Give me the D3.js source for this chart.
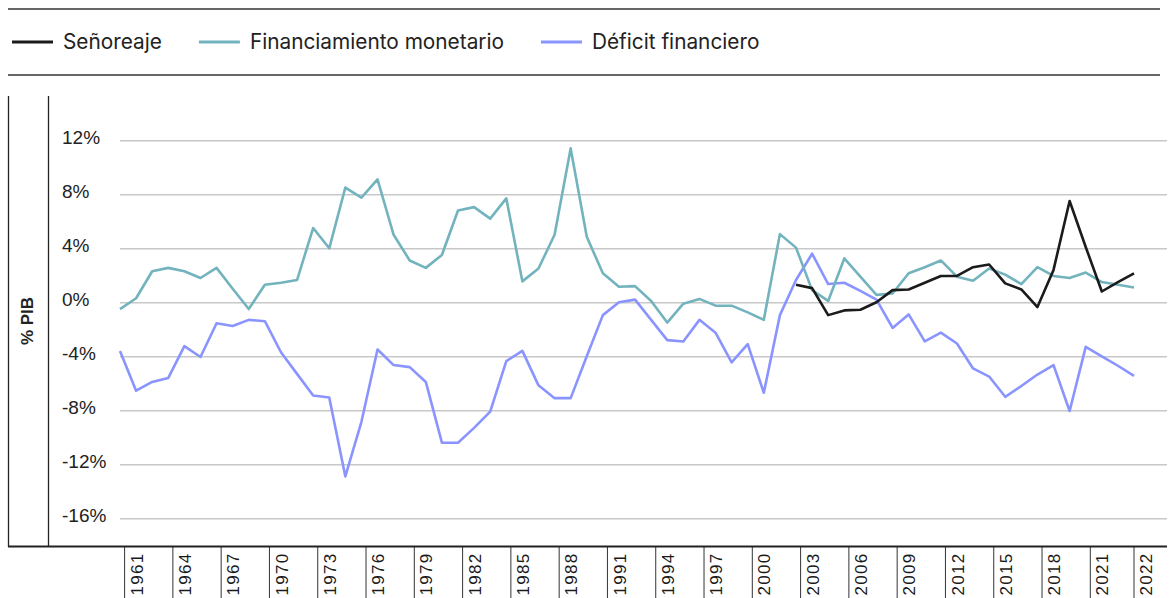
<!DOCTYPE html>
<html>
<head>
<meta charset="utf-8">
<script src="https://cdn.jsdelivr.net/npm/d3@7"></script>
<style>
  body { margin: 0; background: #fff; }
  svg { display: block; }
</style>
</head>
<body>
<svg id="canvas"></svg>
<script>
// años de la serie (un punto por año)
let years = d3.range(1960, 2024)

let financiamiento = [
  -0.5, 0.3, 2.3, 2.55, 2.3, 1.8, 2.55, 1.0, -0.5, 1.3,
  1.45, 1.65, 5.5, 4.0, 8.5, 7.75, 9.1, 5.0, 3.1, 2.55,
  3.5, 6.8, 7.05, 6.2, 7.7, 1.55, 2.5, 5.0, 11.4, 4.85,
  2.15, 1.15, 1.2, 0.1, -1.5, -0.1, 0.25, -0.25, -0.25, -0.75,
  -1.3, 5.05, 4.05, 0.9, 0.1, 3.25, 1.9, 0.55, 0.65, 2.15,
  2.6, 3.1, 1.9, 1.6, 2.5, 2.05, 1.35, 2.6, 1.95, 1.8,
  2.2, 1.5, 1.3, 1.1
]

let deficit = [
  -3.6, -6.55, -5.9, -5.6, -3.25, -4.05, -1.55, -1.75, -1.3, -1.4,
  -3.7, -5.3, -6.9, -7.05, -12.9, -8.85, -3.5, -4.65, -4.8, -5.9,
  -10.4, -10.4, -9.3, -8.1, -4.35, -3.6, -6.15, -7.1, -7.1, -4.0,
  -0.95, 0.0, 0.2, -1.3, -2.8, -2.9, -1.3, -2.25, -4.45, -3.1,
  -6.7, -0.95, 1.65, 3.6, 1.35, 1.45, 0.85, 0.2, -1.9, -0.9,
  -2.9, -2.25, -3.05, -4.9, -5.5, -7.0, -6.2, -5.35, -4.65, -8.05,
  -3.3, -4.0, -4.7, -5.45
]

// señoreaje solo desde 2002
let senoreaje = [
  null, null, null, null, null, null, null, null, null, null,
  null, null, null, null, null, null, null, null, null, null,
  null, null, null, null, null, null, null, null, null, null,
  null, null, null, null, null, null, null, null, null, null,
  null, null, 1.3, 1.05, -0.95, -0.6, -0.55, 0.0, 0.9, 0.95,
  1.45, 1.95, 1.95, 2.6, 2.8, 1.4, 0.95, -0.35, 2.4, 7.5,
  4.1, 0.8, 1.5, 2.15
]

let seriesNames = ['Señoreaje', 'Financiamiento monetario', 'Déficit financiero']
let seriesColors = ['#1b1b1b', '#72b3bd', '#8a94ff']
let seriesValues = [senoreaje, financiamiento, deficit]

let yTicks = [12, 8, 4, 0, -4, -8, -12, -16]
let xTicks = [1961, 1964, 1967, 1970, 1973, 1976, 1979, 1982, 1985, 1988, 1991,
              1994, 1997, 2000, 2003, 2006, 2009, 2012, 2015, 2018, 2021, 2022]

let width = 1171
let height = 598

let canvas = d3.select('#canvas')
canvas.attr('width', width)
      .attr('height', height)

let xScale = d3.scaleLinear()
               .domain([1960, 2023])
               .range([120, 1134])

let yScale = d3.scaleLinear()
               .domain([-16, 12])
               .range([518.3, 140.3])

// líneas del marco
let drawFrame = () => {
    canvas.append('line')
          .attr('x1', 8).attr('x2', 1160)
          .attr('y1', 9).attr('y2', 9)
          .attr('stroke', '#666').attr('stroke-width', 2)
    canvas.append('line')
          .attr('x1', 8).attr('x2', 1160)
          .attr('y1', 75).attr('y2', 75)
          .attr('stroke', '#666').attr('stroke-width', 2)
    canvas.append('line')
          .attr('x1', 8.5).attr('x2', 8.5)
          .attr('y1', 96).attr('y2', 547)
          .attr('stroke', '#222').attr('stroke-width', 1.3)
    canvas.append('line')
          .attr('x1', 48.5).attr('x2', 48.5)
          .attr('y1', 96).attr('y2', 547)
          .attr('stroke', '#222').attr('stroke-width', 1.3)

    canvas.append('text')
          .attr('transform', 'translate(33,321) rotate(-90)')
          .attr('text-anchor', 'middle')
          .attr('font-family', 'Liberation Sans, Arial, sans-serif')
          .attr('font-size', 17)
          .attr('font-weight', 'bold')
          .attr('fill', '#222')
          .text('% PIB')
}

let drawLegend = () => {
    let legend = canvas.append('g')
    let cursor = 12
    seriesNames.forEach((name, i) => {
        legend.append('line')
              .attr('x1', cursor).attr('x2', cursor + 41)
              .attr('y1', 42).attr('y2', 42)
              .attr('stroke', seriesColors[i])
              .attr('stroke-width', 3)
        let label = legend.append('text')
              .attr('x', cursor + 51)
              .attr('y', 42)
              .attr('dy', '0.35em')
              .attr('font-family', 'Inter, sans-serif')
              .attr('font-size', 20.8)
              .attr('fill', '#222')
              .text(name)
        cursor = cursor + 51 + label.node().getComputedTextLength() + 37
    })
}

let drawAxes = () => {
    let yAxis = d3.axisLeft(yScale)
                  .tickValues(yTicks)
                  .tickSize(-(1167 - 120))
                  .tickFormat(d => d + '%')

    let yg = canvas.append('g')
          .attr('id', 'y-axis')
          .attr('transform', 'translate(120,0)')
          .call(yAxis)
    yg.select('.domain').remove()
    yg.selectAll('.tick line')
      .attr('stroke', '#c8c8c8')
      .attr('stroke-width', 1.5)
    yg.selectAll('.tick text')
      .attr('x', -58)
      .attr('y', -3)
      .attr('text-anchor', 'start')
      .attr('font-family', 'Liberation Sans, Arial, sans-serif')
      .attr('font-size', 19)
      .attr('fill', '#222')

    let xAxis = d3.axisBottom(xScale)
                  .tickValues(xTicks)
                  .tickSize(0)
                  .tickFormat(d3.format('d'))

    let xg = canvas.append('g')
          .attr('id', 'x-axis')
          .attr('transform', 'translate(0,546.5)')
          .call(xAxis)
    xg.select('.domain').remove()

    // la última etiqueta va al final del eje, como en el original
    let lastTick = xTicks[xTicks.length - 1]
    let endX = xScale.range()[1]
    xg.selectAll('.tick')
      .filter(d => d === lastTick)
      .attr('transform', 'translate(' + (endX + 12) + ',0)')

    xg.selectAll('.tick text')
      .attr('transform', 'translate(0,6) rotate(-90)')
      .attr('x', 0)
      .attr('y', 0)
      .attr('dy', '0.36em')
      .attr('text-anchor', 'end')
      .attr('font-family', 'Liberation Sans, Arial, sans-serif')
      .attr('font-size', 17)
      .attr('letter-spacing', '1.3px')
      .attr('fill', '#1a1a1a')
    xg.selectAll('.tick')
      .append('line')
      .attr('x1', -12).attr('x2', -12)
      .attr('y1', 0).attr('y2', 52)
      .attr('stroke', '#333')
      .attr('stroke-width', 1)

    canvas.append('line')
          .attr('x1', 8).attr('x2', 1167)
          .attr('y1', 546.5).attr('y2', 546.5)
          .attr('stroke', '#222').attr('stroke-width', 2)
}

let drawLines = () => {
    let line = d3.line()
                 .defined(d => d[1] !== null)
                 .x(d => xScale(d[0]))
                 .y(d => yScale(d[1]))

    // orden de dibujo: déficit, financiamiento, señoreaje arriba
    let order = [2, 1, 0]
    order.forEach(i => {
        let pts = years.map((yr, j) => [yr, seriesValues[i][j]])
        canvas.append('path')
              .datum(pts)
              .attr('d', line)
              .attr('fill', 'none')
              .attr('stroke', seriesColors[i])
              .attr('stroke-width', 2.6)
              .attr('stroke-linejoin', 'round')
    })
}

drawFrame()
drawLegend()
drawAxes()
drawLines()
</script>
</body>
</html>
